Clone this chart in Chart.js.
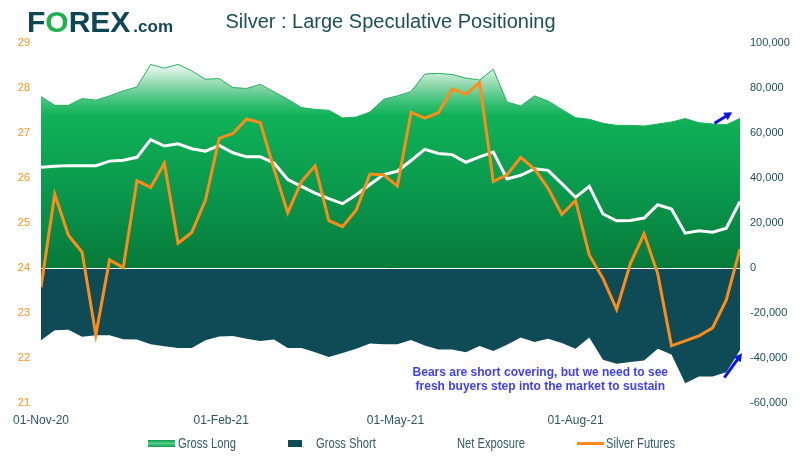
<!DOCTYPE html>
<html>
<head>
<meta charset="utf-8">
<script src="https://cdn.jsdelivr.net/npm/chart.js@4/dist/chart.umd.min.js"></script>
<style>
  html, body { margin: 0; padding: 0; background: #fff; }
  #wrap { position: relative; width: 800px; height: 458px; overflow: hidden; }
  #chart { position: absolute; left: 0; top: 0; }
  .logo { position: absolute; left: 27px; top: 5px; font: bold 30px 'Liberation Sans', Arial, sans-serif; color: #0f4654; white-space: nowrap; }
  .logo .o { color: #1fb14f; }
  .logo .com { font-size: 17px; margin-left: 3px; }
  .title { position: absolute; left: 41px; width: 699px; top: 10px; text-align: center; font: 20px 'Liberation Sans', Arial, sans-serif; color: #1c4e5b; }
  .lg { position: absolute; top: 434px; font: 14px 'Liberation Sans', Arial, sans-serif; color: #335b65; line-height: 18px;
        white-space: nowrap; transform: scaleX(0.8); transform-origin: 0 50%; }
  .sw { position: absolute; }
</style>
</head>
<body>
<div id="wrap">
  <canvas id="chart" width="800" height="458"></canvas>
  <div class="logo">F<span class="o">O</span>REX<span class="com">.com</span></div>
  <div class="title">Silver : Large Speculative Positioning</div>
  <div class="sw" style="left:148px;top:440px;width:27px;height:7px;background:linear-gradient(#0d9c4c,#4fd187 50%,#0d9c4c)"></div>
  <div class="lg" style="left:178px">Gross Long</div>
  <div class="sw" style="left:288px;top:440px;width:14px;height:7px;background:#0e4b56"></div>
  <div class="lg" style="left:316px">Gross Short</div>
  <div class="lg" style="left:457px">Net Exposure</div>
  <div class="sw" style="left:577px;top:442px;width:27px;height:3px;background:#ff8c1a"></div>
  <div class="lg" style="left:606px">Silver Futures</div>
</div>
<script>
// weekly positioning data, 01-Nov-20 .. 24-Oct-21
const dates = [
  '2020-11-01', '2020-11-08', '2020-11-15', '2020-11-22', '2020-11-29', '2020-12-06', '2020-12-13',
  '2020-12-20', '2020-12-27', '2021-01-03', '2021-01-10', '2021-01-17', '2021-01-24', '2021-01-31',
  '2021-02-07', '2021-02-14', '2021-02-21', '2021-02-28', '2021-03-07', '2021-03-14', '2021-03-21',
  '2021-03-28', '2021-04-04', '2021-04-11', '2021-04-18', '2021-04-25', '2021-05-02', '2021-05-09',
  '2021-05-16', '2021-05-23', '2021-05-30', '2021-06-06', '2021-06-13', '2021-06-20', '2021-06-27',
  '2021-07-04', '2021-07-11', '2021-07-18', '2021-07-25', '2021-08-01', '2021-08-08', '2021-08-15',
  '2021-08-22', '2021-08-29', '2021-09-05', '2021-09-12', '2021-09-19', '2021-09-26', '2021-10-03',
  '2021-10-10', '2021-10-17', '2021-10-24'
];

const grossLong = [
  76200, 72300, 72300, 75300, 74600, 76500, 78700, 80500, 90500, 88800,
  90500, 87600, 83900, 84200, 80200, 79800, 81600, 78300, 75000, 71300,
  70500, 70100, 66700, 67100, 69300, 75000, 76500, 78400, 86200, 86500,
  86000, 84400, 83600, 88300, 73800, 72000, 76500, 74200, 70500, 66800,
  66100, 64300, 63400, 63400, 63100, 64000, 64900, 66400, 64600, 64000,
  63700, 66500
];

const grossShort = [
  -32100, -27700, -27400, -30600, -29900, -29900, -31700, -31800, -33900, -34800,
  -35600, -35600, -32100, -30400, -30200, -31400, -32400, -31800, -35600, -35600,
  -37400, -39600, -37800, -35900, -33600, -33900, -33900, -32000, -34400, -36200,
  -36200, -37400, -34700, -36900, -34100, -30900, -32900, -31400, -33300, -35900,
  -30900, -40800, -42500, -41800, -41100, -35900, -38400, -51200, -48200, -48200,
  -46300, -36600
];

const netExposure = [
  44800, 45200, 45500, 45500, 45500, 47500, 47900, 49200, 57100, 54200,
  55200, 53000, 51900, 54500, 51200, 49400, 49400, 46700, 39300, 36300,
  33300, 30800, 28600, 32600, 37100, 41500, 43000, 47800, 52700, 50900,
  50400, 47000, 49400, 51500, 39600, 41200, 44100, 43400, 37500, 31400,
  36300, 24000, 21000, 21100, 22200, 28100, 26200, 15500, 16500, 15900,
  17700, 29600
];

const silverFutures = [
  23.57, 25.64, 24.73, 24.35, 22.51, 24.18, 24.01, 25.94, 25.79, 26.33,
  24.55, 24.79, 25.51, 26.88, 26.99, 27.31, 27.23, 26.20, 25.23, 25.92,
  26.27, 25.05, 24.92, 25.29, 26.09, 26.07, 25.82, 27.46, 27.33, 27.45,
  27.98, 27.86, 28.12, 25.92, 26.07, 26.46, 26.20, 25.77, 25.19, 25.50,
  24.29, 23.77, 23.08, 24.10, 24.76, 23.87, 22.27, 22.38, 22.49, 22.67,
  23.29, 24.42
];

const xTickDates = ['2020-11-01', '2021-02-01', '2021-05-01', '2021-08-01'];
const priceRange = [21, 29, 1];
const positionRange = [-60000, 100000, 20000];

const noteLines = ['Bears are short covering, but we need to see', 'fresh buyers step into the market to sustain'];
const noteAnchor = ['2021-07-14', -46400, -52700];
// arrows: [fromDate, fromValue, toDate, toValue] on the positioning axis
const arrows = [
  ['2021-10-11', 64300, '2021-10-20', 69200],
  ['2021-10-16', -48700, '2021-10-25', -37900]
];

const DAY = 86400000;
const MONTHS = ['Jan', 'Feb', 'Mar', 'Apr', 'May', 'Jun', 'Jul', 'Aug', 'Sep', 'Oct', 'Nov', 'Dec'];
const toDay = s => Date.UTC(+s.slice(0, 4), +s.slice(5, 7) - 1, +s.slice(8, 10)) / DAY;
const fmtDay = d => {
  const dt = new Date(Math.round(d) * DAY);
  return String(dt.getUTCDate()).padStart(2, '0') + '-' + MONTHS[dt.getUTCMonth()] + '-' + String(dt.getUTCFullYear()).slice(2);
};
const points = vals => vals.map((v, i) => ({ x: toDay(dates[i]), y: v }));

Chart.defaults.font.family = "'Liberation Sans', Arial, sans-serif";

function longFill(ctx) {
  const { chart } = ctx;
  if (!chart.chartArea) return '#10b258';
  const s = chart.scales.y1;
  const top = s.getPixelForValue(Math.max(...grossLong));
  const bottom = s.getPixelForValue(0);
  const g = chart.ctx.createLinearGradient(0, top, 0, bottom);
  g.addColorStop(0, '#f2fbf5');
  g.addColorStop(0.1, '#8fd8ad');
  g.addColorStop(0.18, '#40c27b');
  g.addColorStop(0.25, '#10b258');
  g.addColorStop(0.6, '#0a9a4e');
  g.addColorStop(1, '#077a39');
  return g;
}

function drawArrow(c, x1, y1, x2, y2) {
  const a = Math.atan2(y2 - y1, x2 - x1);
  const h = 9;
  c.save();
  c.strokeStyle = '#0a14f0';
  c.fillStyle = '#0a14f0';
  c.lineWidth = 3;
  c.beginPath();
  c.moveTo(x1, y1);
  c.lineTo(x2 - Math.cos(a) * h * 0.6, y2 - Math.sin(a) * h * 0.6);
  c.stroke();
  c.beginPath();
  c.moveTo(x2, y2);
  c.lineTo(x2 - h * Math.cos(a - 0.5), y2 - h * Math.sin(a - 0.5));
  c.lineTo(x2 - h * Math.cos(a + 0.5), y2 - h * Math.sin(a + 0.5));
  c.closePath();
  c.fill();
  c.restore();
}

const extras = {
  id: 'extras',
  // white zero line sits above the fills but under the two lines
  afterDatasetDraw(chart, args) {
    if (args.index !== 1) return;
    const { ctx, chartArea } = chart;
    const y = Math.round(chart.scales.y1.getPixelForValue(0)) + 0.5;
    ctx.save();
    ctx.strokeStyle = '#ffffff';
    ctx.lineWidth = 1;
    ctx.beginPath();
    ctx.moveTo(chartArea.left, y);
    ctx.lineTo(chartArea.right, y);
    ctx.stroke();
    ctx.restore();
  },
  afterDraw(chart) {
    const { ctx } = chart;
    const x = chart.scales.x, y1 = chart.scales.y1;
    arrows.forEach(a => drawArrow(ctx,
      x.getPixelForValue(toDay(a[0])), y1.getPixelForValue(a[1]),
      x.getPixelForValue(toDay(a[2])), y1.getPixelForValue(a[3])));
    ctx.save();
    ctx.font = "bold 12px 'Liberation Sans', Arial, sans-serif";
    ctx.fillStyle = '#4040f4';
    ctx.textAlign = 'center';
    ctx.textBaseline = 'middle';
    const nx = x.getPixelForValue(toDay(noteAnchor[0]));
    noteLines.forEach((t, i) => ctx.fillText(t, nx, y1.getPixelForValue(noteAnchor[1 + i])));
    ctx.restore();
  }
};

new Chart(document.getElementById('chart'), {
  type: 'line',
  data: {
    datasets: [
      { label: 'Gross Long', data: points(grossLong), yAxisID: 'y1', fill: 'origin', backgroundColor: longFill,
        borderColor: '#27ad62', borderWidth: 1, pointRadius: 0, order: 3 },
      { label: 'Gross Short', data: points(grossShort), yAxisID: 'y1', fill: 'origin', backgroundColor: '#0e4b56',
        borderColor: '#0e4b56', borderWidth: 0, pointRadius: 0, order: 2 },
      { label: 'Net Exposure', data: points(netExposure), yAxisID: 'y1', fill: false,
        borderColor: '#ffffff', borderWidth: 3, pointRadius: 0, order: 1 },
      { label: 'Silver Futures', data: points(silverFutures), yAxisID: 'y', fill: false,
        borderColor: '#ff8c1a', borderWidth: 3, pointRadius: 0, order: 0 }
    ]
  },
  options: {
    responsive: false,
    animation: false,
    layout: { padding: { top: 43, bottom: 0, left: 0, right: 0 } },
    plugins: { legend: { display: false }, tooltip: { enabled: false } },
    scales: {
      x: {
        type: 'linear',
        min: toDay(dates[0]),
        max: toDay(dates[dates.length - 1]),
        grid: { display: false, drawTicks: false },
        border: { display: false },
        ticks: { color: '#2b5661', font: { size: 12 }, padding: 10, maxRotation: 0, autoSkip: false, callback: v => fmtDay(v) },
        afterBuildTicks: s => { s.ticks = xTickDates.map(d => ({ value: toDay(d) })); },
        afterFit: s => { s.height = 55; }
      },
      y: {
        position: 'left',
        min: priceRange[0], max: priceRange[1],
        grid: { display: false, drawTicks: false },
        border: { display: false },
        ticks: { stepSize: priceRange[2], color: '#f7941d', font: { size: 11 }, padding: 11 },
        afterFit: s => { s.width = 41; }
      },
      y1: {
        position: 'right',
        min: positionRange[0], max: positionRange[1],
        grid: { display: false, drawTicks: false },
        border: { display: false },
        ticks: { stepSize: positionRange[2], color: '#1d4f5b', font: { size: 11 }, padding: 10,
                 callback: v => v.toLocaleString('en-US') },
        afterFit: s => { s.width = 60; }
      }
    }
  },
  plugins: [extras]
});
</script>
</body>
</html>
